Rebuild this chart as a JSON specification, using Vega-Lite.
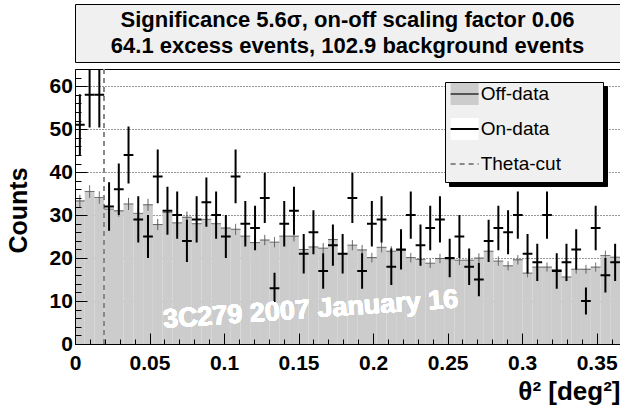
{
  "$schema": "https://vega.github.io/schema/vega-lite/v6.json",
  "autosize": {"type": "pad"},
  "padding": {"left": 5, "top": 3, "right": 1, "bottom": 8},
  "background": "white",
  "spacing": 5,
  "config": {
    "font": "Liberation Sans",
    "view": {"stroke": "black", "strokeWidth": 1},
    "axis": {"domainColor": "black", "tickColor": "black", "labelColor": "black", "titleColor": "black", "tickWidth": 1}
  },
  "datasets": {
    "bins": [
      {"lo":0,"hi":0.00653,"x":0.003265,"on":51,"on_lo":43.86,"on_hi":58.14,"off":33.3,"off_lo":31.89,"off_hi":34.71},
      {"lo":0.00653,"hi":0.01306,"x":0.009795,"on":58,"on_lo":50.38,"on_hi":65.62,"off":35.5,"off_lo":34.04,"off_hi":36.96},
      {"lo":0.01306,"hi":0.01959,"x":0.016325,"on":58,"on_lo":50.38,"on_hi":65.62,"off":34.1,"off_lo":32.67,"off_hi":35.53},
      {"lo":0.01959,"hi":0.02612,"x":0.022855,"on":32,"on_lo":26.34,"on_hi":37.66,"off":31.4,"off_lo":30.03,"off_hi":32.77},
      {"lo":0.02612,"hi":0.03265,"x":0.029385,"on":36,"on_lo":30,"on_hi":42,"off":31.0,"off_lo":29.64,"off_hi":32.36},
      {"lo":0.03265,"hi":0.03918,"x":0.035915,"on":44,"on_lo":37.37,"on_hi":50.63,"off":32.6,"off_lo":31.2,"off_hi":34.0},
      {"lo":0.03918,"hi":0.04571,"x":0.042445,"on":29,"on_lo":23.61,"on_hi":34.39,"off":30.4,"off_lo":29.05,"off_hi":31.75},
      {"lo":0.04571,"hi":0.05224,"x":0.048975,"on":25,"on_lo":20,"on_hi":30,"off":32.4,"off_lo":31.01,"off_hi":33.79},
      {"lo":0.05224,"hi":0.05877,"x":0.055505,"on":39,"on_lo":32.76,"on_hi":45.24,"off":27.8,"off_lo":26.51,"off_hi":29.09},
      {"lo":0.05877,"hi":0.0653,"x":0.062035,"on":31,"on_lo":25.43,"on_hi":36.57,"off":30.6,"off_lo":29.24,"off_hi":31.96},
      {"lo":0.0653,"hi":0.07183,"x":0.068565,"on":30,"on_lo":24.52,"on_hi":35.48,"off":28.2,"off_lo":26.9,"off_hi":29.5},
      {"lo":0.07183,"hi":0.07836,"x":0.075095,"on":24,"on_lo":19.1,"on_hi":28.9,"off":29.5,"off_lo":28.17,"off_hi":30.83},
      {"lo":0.07836,"hi":0.08489,"x":0.081625,"on":29,"on_lo":23.61,"on_hi":34.39,"off":28.0,"off_lo":26.7,"off_hi":29.3},
      {"lo":0.08489,"hi":0.09142,"x":0.088155,"on":33,"on_lo":27.26,"on_hi":38.74,"off":29.0,"off_lo":27.68,"off_hi":30.32},
      {"lo":0.09142,"hi":0.09795,"x":0.094685,"on":30,"on_lo":24.52,"on_hi":35.48,"off":28.0,"off_lo":26.7,"off_hi":29.3},
      {"lo":0.09795,"hi":0.10448,"x":0.101215,"on":25,"on_lo":20,"on_hi":30,"off":27.0,"off_lo":25.73,"off_hi":28.27},
      {"lo":0.10448,"hi":0.11101,"x":0.107745,"on":39,"on_lo":32.76,"on_hi":45.24,"off":26.7,"off_lo":25.43,"off_hi":27.97},
      {"lo":0.11101,"hi":0.11754,"x":0.114275,"on":28,"on_lo":22.71,"on_hi":33.29,"off":25.1,"off_lo":23.87,"off_hi":26.33},
      {"lo":0.11754,"hi":0.12407,"x":0.120805,"on":27,"on_lo":21.8,"on_hi":32.2,"off":23.6,"off_lo":22.41,"off_hi":24.79},
      {"lo":0.12407,"hi":0.1306,"x":0.127335,"on":34,"on_lo":28.17,"on_hi":39.83,"off":24.2,"off_lo":23.0,"off_hi":25.4},
      {"lo":0.1306,"hi":0.13713,"x":0.133865,"on":13,"on_lo":9.39,"on_hi":16.61,"off":23.7,"off_lo":22.51,"off_hi":24.89},
      {"lo":0.13713,"hi":0.14366,"x":0.140395,"on":28,"on_lo":22.71,"on_hi":33.29,"off":25.1,"off_lo":23.87,"off_hi":26.33},
      {"lo":0.14366,"hi":0.15019,"x":0.146925,"on":31,"on_lo":25.43,"on_hi":36.57,"off":25.1,"off_lo":23.87,"off_hi":26.33},
      {"lo":0.15019,"hi":0.15672,"x":0.153455,"on":21,"on_lo":16.42,"on_hi":25.58,"off":22.0,"off_lo":20.85,"off_hi":23.15},
      {"lo":0.15672,"hi":0.16325,"x":0.159985,"on":26,"on_lo":20.9,"on_hi":31.1,"off":22.6,"off_lo":21.44,"off_hi":23.76},
      {"lo":0.16325,"hi":0.16978,"x":0.166515,"on":17,"on_lo":12.88,"on_hi":21.12,"off":22.3,"off_lo":21.14,"off_hi":23.46},
      {"lo":0.16978,"hi":0.17631,"x":0.173045,"on":23,"on_lo":18.2,"on_hi":27.8,"off":24.3,"off_lo":23.09,"off_hi":25.51},
      {"lo":0.17631,"hi":0.18284,"x":0.179575,"on":21,"on_lo":16.42,"on_hi":25.58,"off":21.0,"off_lo":19.88,"off_hi":22.12},
      {"lo":0.18284,"hi":0.18937,"x":0.186105,"on":34,"on_lo":28.17,"on_hi":39.83,"off":23.0,"off_lo":21.83,"off_hi":24.17},
      {"lo":0.18937,"hi":0.1959,"x":0.192635,"on":17,"on_lo":12.88,"on_hi":21.12,"off":21.9,"off_lo":20.75,"off_hi":23.05},
      {"lo":0.1959,"hi":0.20243,"x":0.199165,"on":28,"on_lo":22.71,"on_hi":33.29,"off":20.1,"off_lo":19.0,"off_hi":21.2},
      {"lo":0.20243,"hi":0.20896,"x":0.205695,"on":29,"on_lo":23.61,"on_hi":34.39,"off":22.5,"off_lo":21.34,"off_hi":23.66},
      {"lo":0.20896,"hi":0.21549,"x":0.212225,"on":18,"on_lo":13.76,"on_hi":22.24,"off":21.6,"off_lo":20.46,"off_hi":22.74},
      {"lo":0.21549,"hi":0.22202,"x":0.218755,"on":22,"on_lo":17.31,"on_hi":26.69,"off":21.8,"off_lo":20.66,"off_hi":22.94},
      {"lo":0.22202,"hi":0.22855,"x":0.225285,"on":30,"on_lo":24.52,"on_hi":35.48,"off":20.1,"off_lo":19.0,"off_hi":21.2},
      {"lo":0.22855,"hi":0.23508,"x":0.231815,"on":23,"on_lo":18.2,"on_hi":27.8,"off":19.7,"off_lo":18.61,"off_hi":20.79},
      {"lo":0.23508,"hi":0.24161,"x":0.238345,"on":27,"on_lo":21.8,"on_hi":32.2,"off":18.8,"off_lo":17.74,"off_hi":19.86},
      {"lo":0.24161,"hi":0.24814,"x":0.244875,"on":29,"on_lo":23.61,"on_hi":34.39,"off":19.9,"off_lo":18.81,"off_hi":20.99},
      {"lo":0.24814,"hi":0.25467,"x":0.251405,"on":20,"on_lo":15.53,"on_hi":24.47,"off":19.8,"off_lo":18.71,"off_hi":20.89},
      {"lo":0.25467,"hi":0.2612,"x":0.257935,"on":25,"on_lo":20,"on_hi":30,"off":19.5,"off_lo":18.42,"off_hi":20.58},
      {"lo":0.2612,"hi":0.26773,"x":0.264465,"on":18,"on_lo":13.76,"on_hi":22.24,"off":19.5,"off_lo":18.42,"off_hi":20.58},
      {"lo":0.26773,"hi":0.27426,"x":0.270995,"on":15,"on_lo":11.13,"on_hi":18.87,"off":20.0,"off_lo":18.9,"off_hi":21.1},
      {"lo":0.27426,"hi":0.28079,"x":0.277525,"on":24,"on_lo":19.1,"on_hi":28.9,"off":21.6,"off_lo":20.46,"off_hi":22.74},
      {"lo":0.28079,"hi":0.28732,"x":0.284055,"on":27,"on_lo":21.8,"on_hi":32.2,"off":19.3,"off_lo":18.22,"off_hi":20.38},
      {"lo":0.28732,"hi":0.29385,"x":0.290585,"on":26,"on_lo":20.9,"on_hi":31.1,"off":18.2,"off_lo":17.16,"off_hi":19.24},
      {"lo":0.29385,"hi":0.30038,"x":0.297115,"on":30,"on_lo":24.52,"on_hi":35.48,"off":19.6,"off_lo":18.52,"off_hi":20.68},
      {"lo":0.30038,"hi":0.30691,"x":0.303645,"on":21,"on_lo":16.42,"on_hi":25.58,"off":16.5,"off_lo":15.51,"off_hi":17.49},
      {"lo":0.30691,"hi":0.31344,"x":0.310175,"on":19,"on_lo":14.64,"on_hi":23.36,"off":17.9,"off_lo":16.86,"off_hi":18.94},
      {"lo":0.31344,"hi":0.31997,"x":0.316705,"on":30,"on_lo":24.52,"on_hi":35.48,"off":17.9,"off_lo":16.86,"off_hi":18.94},
      {"lo":0.31997,"hi":0.3265,"x":0.323235,"on":17,"on_lo":12.88,"on_hi":21.12,"off":17.3,"off_lo":16.28,"off_hi":18.32},
      {"lo":0.3265,"hi":0.33303,"x":0.329765,"on":19,"on_lo":14.64,"on_hi":23.36,"off":15.6,"off_lo":14.63,"off_hi":16.57},
      {"lo":0.33303,"hi":0.33956,"x":0.336295,"on":22,"on_lo":17.31,"on_hi":26.69,"off":17.4,"off_lo":16.38,"off_hi":18.42},
      {"lo":0.33956,"hi":0.34609,"x":0.342825,"on":10,"on_lo":6.84,"on_hi":13.16,"off":17.4,"off_lo":16.38,"off_hi":18.42},
      {"lo":0.34609,"hi":0.35262,"x":0.349355,"on":27,"on_lo":21.8,"on_hi":32.2,"off":17.9,"off_lo":16.86,"off_hi":18.94},
      {"lo":0.35262,"hi":0.35915,"x":0.355885,"on":16,"on_lo":12,"on_hi":20,"off":20.6,"off_lo":19.49,"off_hi":21.71},
      {"lo":0.35915,"hi":0.36568,"x":0.362415,"on":19,"on_lo":14.64,"on_hi":23.36,"off":20.2,"off_lo":19.1,"off_hi":21.3}
    ]
  },
  "vconcat": [
    {
      "width": 545,
      "height": 58,
      "view": {"fill": "#f0f0f0", "stroke": "black", "strokeWidth": 1},
      "data": {"values": [
        {"line": "1", "text": "Significance 5.6σ, on-off scaling factor 0.06"},
        {"line": "2", "text": "64.1 excess events, 102.9 background events"}
      ]},
      "mark": {"type": "text", "font": "Liberation Sans", "fontWeight": "bold", "fontSize": 22, "baseline": "middle", "align": "center", "color": "black"},
      "encoding": {
        "y": {"field": "line", "type": "ordinal", "scale": {"type": "point", "padding": 0.615}, "axis": null},
        "text": {"field": "text"}
      }
    },
    {
      "width": 545,
      "height": 275,
      "data": {"name": "bins"},
      "resolve": {"axis": {"x": "independent", "y": "independent"}},
      "layer": [
        {
          "mark": {"type": "rect"},
          "encoding": {
            "x": {"field": "lo", "type": "quantitative",
              "scale": {"domain": [0, 0.36568], "nice": false, "zero": false},
              "axis": {
                "orient": "bottom",
                "values": [0, 0.05, 0.1, 0.15, 0.2, 0.25, 0.3, 0.35],
                "format": "~g",
                "labelFont": "Liberation Sans", "labelFontWeight": "bold", "labelFontSize": 21,
                "labelFlush": false, "labelOverlap": false, "labelPadding": 19,
                "tickSize": -11,
                "grid": false,
                "zindex": 1,
                "title": "θ² [deg²]",
                "titleFont": "Liberation Sans", "titleFontWeight": "bold", "titleFontSize": 26,
                "titleX": 545, "titleY": 47, "titleAlign": "right", "titleBaseline": "middle"
              }
            },
            "x2": {"field": "hi"},
            "y": {"field": "off", "type": "quantitative",
              "scale": {"domain": [0, 64], "nice": false},
              "axis": {
                "orient": "left",
                "values": [0, 10, 20, 30, 40, 50, 60],
                "labelFont": "Liberation Sans", "labelFontWeight": "bold", "labelFontSize": 21,
                "labelPadding": 14.6, "labelOverlap": false, "labelFlush": false,
                "tickSize": -12,
                "grid": false,
                "zindex": 1,
                "title": "Counts",
                "titleFont": "Liberation Sans", "titleFontWeight": "bold", "titleFontSize": 25,
                "titleAngle": 270, "titleX": -57, "titleY": 141, "titleAlign": "center", "titleBaseline": "middle"
              }
            },
            "y2": {"datum": 0},
            "fill": {"datum": "Off-data",
              "scale": {"domain": ["Off-data", "On-data", "Theta-cut", "·"], "range": ["#cccccc", "#ffffff", "rgba(0,0,0,0)", "rgba(0,0,0,0)"]},
              "legend": {
                "orient": "none", "legendX": 370, "legendY": 78, "zindex": 1,
                "values": ["Off-data", "On-data", "Theta-cut"],
                "labelExpr": "''",
                "title": " ", "titleOrient": "right", "titleFontSize": 1, "titlePadding": 117.5,
                "fillColor": "#f0f0f0", "strokeColor": "black",
                "padding": 2.5, "rowPadding": 4,
                "symbolType": "M-1.647,-1.294H1.647V1.294H-1.647Z", "symbolSize": 289, "symbolStrokeWidth": 2, "symbolStrokeColor": "rgba(0,0,0,0)", "symbolOffset": 7.6,
                "labelFont": "Liberation Sans", "labelFontSize": 1, "labelColor": "black", "labelOffset": 6.6
              }
            }
          }
        },
        {
          "mark": {"type": "rule", "strokeWidth": 1},
          "encoding": {
            "y": {"field": "off", "type": "quantitative", "scale": {"domain": [0, 64], "nice": false},
              "axis": {"orient": "left", "values": [10, 20, 30, 40, 50, 60], "grid": true, "gridDash": [1, 2], "gridColor": "#333333", "gridWidth": 1,
                "labels": false, "ticks": false, "domain": false, "title": null, "zindex": 0}},
            "x": {"field": "lo", "type": "quantitative",
              "axis": {"orient": "bottom", "values": [0.01,0.02,0.03,0.04,0.06,0.07,0.08,0.09,0.11,0.12,0.13,0.14,0.16,0.17,0.18,0.19,0.21,0.22,0.23,0.24,0.26,0.27,0.28,0.29,0.31,0.32,0.33,0.34,0.36],
                "tickSize": -5, "labels": false, "domain": false, "grid": false, "title": null, "zindex": 1}},
            "x2": {"field": "hi"},
            "stroke": {"datum": "Off-data",
              "scale": {"domain": ["Off-data", "On-data", "Theta-cut"], "range": ["#555555", "#000000", "#888888"]},
              "legend": {
                "orient": "none", "legendX": 370, "legendY": 78, "zindex": 2, "title": null,
                "padding": 2.5, "rowPadding": 4,
                "symbolType": "M-1.647,-1.294L-1.647,-1.294M-1.647,0H1.647M1.647,1.294L1.647,1.294", "symbolSize": 289, "symbolStrokeWidth": 2, "symbolOffset": 7.6,
                "labelFont": "Liberation Sans", "labelFontSize": 19, "labelColor": "black", "labelOffset": 6.6
              }
            },
            "strokeDash": {"datum": "Off-data",
              "scale": {"domain": ["Off-data", "On-data", "Theta-cut"], "range": [[1, 0], [1, 0], [5, 4]]},
              "legend": {
                "orient": "none", "legendX": 370, "legendY": 78, "zindex": 2, "title": null,
                "padding": 2.5, "rowPadding": 4,
                "symbolType": "M-1.647,-1.294L-1.647,-1.294M-1.647,0H1.647M1.647,1.294L1.647,1.294", "symbolSize": 289, "symbolStrokeWidth": 2, "symbolOffset": 7.6,
                "labelFont": "Liberation Sans", "labelFontSize": 19, "labelColor": "black", "labelOffset": 6.6
              }
            }
          }
        },
        {
          "mark": {"type": "rule", "strokeWidth": 1},
          "encoding": {
            "x": {"field": "x", "type": "quantitative", "axis": null},
            "y": {"field": "off_lo", "type": "quantitative", "scale": {"domain": [0, 64], "nice": false},
              "axis": {"orient": "left", "values": [2,4,6,8,12,14,16,18,22,24,26,28,32,34,36,38,42,44,46,48,52,54,56,58,62],
                "tickSize": -6, "labels": false, "domain": false, "grid": false, "title": null, "zindex": 1}},
            "y2": {"field": "off_hi"},
            "stroke": {"datum": "Off-data"},
            "strokeDash": {"datum": "Off-data"}
          }
        },
        {
          "mark": {"type": "rule", "strokeWidth": 1},
          "encoding": {
            "x": {"datum": 0.01959, "type": "quantitative", "axis": null},
            "stroke": {"datum": "Theta-cut"},
            "strokeDash": {"datum": "Theta-cut"}
          }
        },
        {
          "mark": {"type": "rule", "strokeWidth": 2, "clip": true},
          "encoding": {
            "x": {"field": "lo", "type": "quantitative", "axis": null},
            "x2": {"field": "hi"},
            "y": {"field": "on", "type": "quantitative", "scale": {"domain": [0, 64], "nice": false}, "axis": null},
            "stroke": {"datum": "On-data"},
            "strokeDash": {"datum": "On-data"}
          }
        },
        {
          "mark": {"type": "rule", "strokeWidth": 2, "clip": true},
          "encoding": {
            "x": {"field": "x", "type": "quantitative", "axis": null},
            "y": {"field": "on_lo", "type": "quantitative", "scale": {"domain": [0, 64], "nice": false}, "axis": null},
            "y2": {"field": "on_hi"},
            "stroke": {"datum": "On-data"},
            "strokeDash": {"datum": "On-data"}
          }
        },
        {
          "mark": {"type": "text", "font": "Liberation Sans", "fontWeight": "bold", "fontSize": 27, "color": "white", "align": "left", "baseline": "alphabetic", "angle": 356},
          "encoding": {
            "x": {"datum": 0.0595, "type": "quantitative", "axis": null},
            "y": {"datum": 3.7, "type": "quantitative", "scale": {"domain": [0, 64], "nice": false}, "axis": null},
            "text": {"value": "3C279 2007 January 16"}
          }
        },
        {
          "mark": {"type": "point", "opacity": 0, "size": 289, "strokeWidth": 2},
          "encoding": {
            "x": {"field": "x", "type": "quantitative", "axis": null},
            "y": {"field": "off", "type": "quantitative", "scale": {"domain": [0, 64], "nice": false}, "axis": null},
            "shape": {"datum": "Off-data",
              "scale": {"domain": ["Off-data", "On-data", "Theta-cut", "·", "··"], "range": ["M-1.647,-1.294H1.647V1.294H-1.647Z", "M-1.647,-1.294H1.647V1.294H-1.647Z", "M-1.647,-1.294H1.647V1.294H-1.647Z", "M-1.647,-1.294H1.647V1.294H-1.647Z", "M-1.647,-1.294H1.647V1.294H-1.647Z"]},
              "legend": {
                "orient": "none", "legendX": 374, "legendY": 82, "zindex": 0,
                "values": ["Off-data", "On-data", "Theta-cut"],
                "labelExpr": "''",
                "title": " ", "titleOrient": "right", "titleFontSize": 1, "titlePadding": 117.5,
                "fillColor": "black", "strokeColor": "black",
                "padding": 2.5, "rowPadding": 4,
                "symbolSize": 289, "symbolStrokeWidth": 2, "symbolStrokeColor": "black", "symbolOffset": 7.6,
                "labelFont": "Liberation Sans", "labelFontSize": 1, "labelColor": "black", "labelOffset": 6.6
              }
            }
          }
        }
      ]
    }
  ]
}
